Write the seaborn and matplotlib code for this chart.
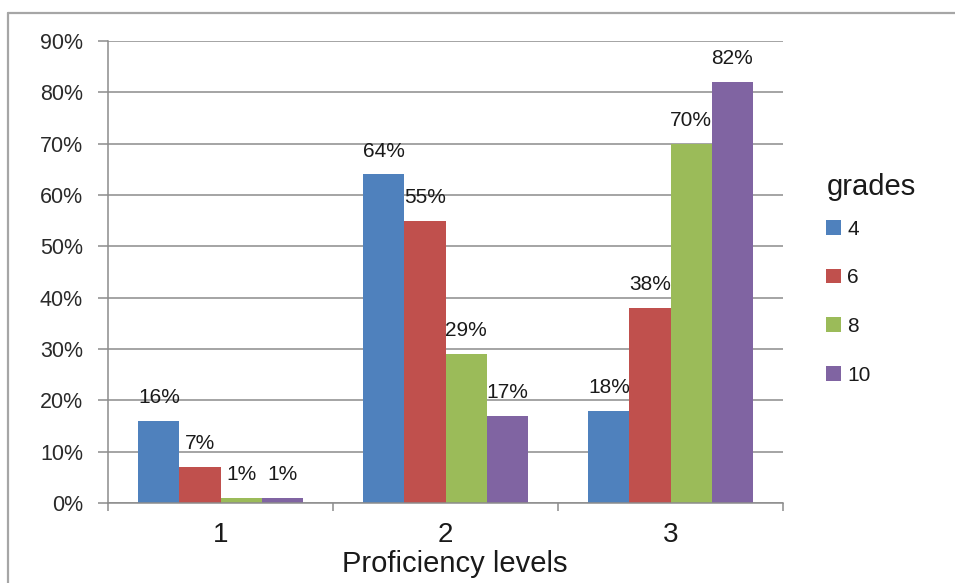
import matplotlib
matplotlib.use("Agg")
import matplotlib.pyplot as plt
from matplotlib.lines import Line2D
from matplotlib.patches import Patch
from matplotlib.ticker import PercentFormatter, FixedLocator
import seaborn as sns
import pandas as pd

# Share of students at each proficiency level, by grade
levels = ["1", "2", "3"]
grades = ["4", "6", "8", "10"]
grade_4 = [0.16, 0.64, 0.18]
grade_6 = [0.07, 0.55, 0.38]
grade_8 = [0.01, 0.29, 0.70]
grade_10 = [0.01, 0.17, 0.82]
colors = ["#4F81BD", "#C0504D", "#9BBB59", "#8064A2"]

series = [grade_4, grade_6, grade_8, grade_10]
df = pd.DataFrame(
    [(lvl, g, v) for g, vals in zip(grades, series) for lvl, v in zip(levels, vals)],
    columns=["level", "grade", "share"],
)

sns.set_theme(style="white")
plt.rcParams["font.family"] = ["Liberation Sans", "DejaVu Sans"]

W, H = 955, 583
fig = plt.figure(figsize=(W / 100, H / 100), dpi=100)
ax = fig.add_axes([108 / W, 1 - 503 / H, (783 - 108) / W, (503 - 41) / H])

sns.barplot(
    data=df, x="level", y="share", hue="grade", order=levels, hue_order=grades,
    palette=colors, width=0.73, saturation=1, ax=ax, legend=False, linewidth=0,
)

grid_c = "#8c8c8c"
ax.set_ylim(0, 0.9)
ax.set_xlim(-0.5, 2.5)
ax.yaxis.set_major_locator(FixedLocator([i / 10 for i in range(10)]))
ax.yaxis.set_major_formatter(PercentFormatter(1.0, decimals=0))
ax.grid(axis="y", color=grid_c, linewidth=1.1)
ax.set_axisbelow(True)
for s in ["top", "right"]:
    ax.spines[s].set_visible(False)
for s in ["left", "bottom"]:
    ax.spines[s].set_color(grid_c)
    ax.spines[s].set_linewidth(1.1)

ax.tick_params(axis="y", which="major", left=True, length=7, width=1.1, color=grid_c,
               pad=11, labelsize=15.5, labelcolor="#2a2a2a")
ax.xaxis.set_minor_locator(FixedLocator([-0.5, 0.5, 1.5, 2.5]))
ax.tick_params(axis="x", which="minor", bottom=True, length=6, width=1.1, color=grid_c)
ax.tick_params(axis="x", which="major", bottom=True, length=0, pad=14, labelsize=20,
               labelcolor="#1a1a1a")

ax.set_ylabel("")
ax.set_xlabel("Proficiency levels", fontsize=21, color="#1a1a1a")
ax.xaxis.set_label_coords((455 - 108) / (783 - 108), -0.102)

for cont, vals in zip(ax.containers, series):
    ax.bar_label(cont, labels=[f"{v:.0%}" for v in vals], padding=10, fontsize=15,
                 color="#1a1a1a")

handles = [Patch(facecolor=c, edgecolor="none") for c in colors]
leg_fs = 15
leg = ax.legend(
    handles, grades, title="grades", loc="upper left",
    bbox_to_anchor=(816 / W, 1 - 163 / H), bbox_transform=fig.transFigure,
    frameon=False, borderpad=0, handlelength=0.7, handleheight=0.7,
    handletextpad=0.3, labelspacing=1.42, fontsize=leg_fs, title_fontsize=21,
    alignment="left",
)
# tighter gap between the title and the first entry
leg._legend_box.sep = 1.42 * leg_fs - 8
for t in leg.get_texts():
    t.set_color("#1a1a1a")
leg.get_title().set_color("#1a1a1a")

# outer chart frame (top and left edges)
frame_c = "#a6a6a6"
fig.add_artist(Line2D([8 / W, 1], [1 - 13 / H, 1 - 13 / H], transform=fig.transFigure,
                      color=frame_c, linewidth=1.6))
fig.add_artist(Line2D([8 / W, 8 / W], [0, 1 - 13 / H], transform=fig.transFigure,
                      color=frame_c, linewidth=1.6))

fig.savefig("out.png", dpi=100)
